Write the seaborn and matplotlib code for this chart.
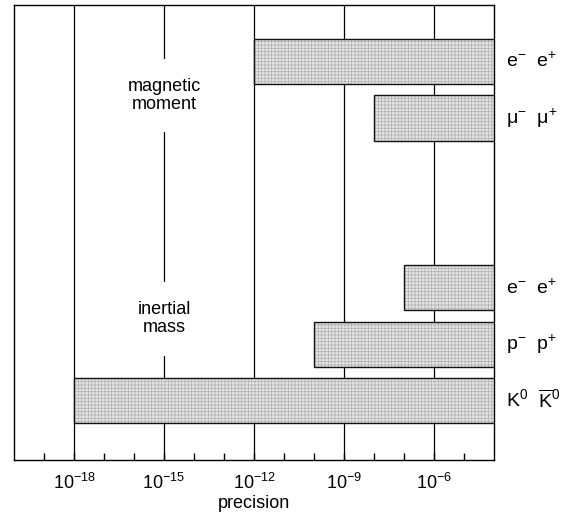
import matplotlib
matplotlib.use("Agg")
import matplotlib.pyplot as plt
import matplotlib.ticker as mticker
import seaborn as sns
import pandas as pd

# data
particles = [r"$\mathregular{e^{-}\ \ e^{+}}$",
             r"$\mathregular{\mu^{-}\ \ \mu^{+}}$",
             r"$\mathregular{e^{-}\ \ e^{+}}$",
             r"$\mathregular{p^{-}\ \ p^{+}}$",
             r"$\mathregular{K^{0}\ \ \overline{K}^{0}}$"]
positions = [0, 1, 4, 5, 6]
precision = [1e-12, 1e-8, 1e-7, 1e-10, 1e-18]
upper = 1e-4
groups = ["magnetic\nmoment", "inertial\nmass"]
group_y = [0.6, 4.55]
major_ticks = [1e-18, 1e-15, 1e-12, 1e-9, 1e-6]
major_labels = [r"$\mathregular{10^{-18}}$", r"$\mathregular{10^{-15}}$",
                r"$\mathregular{10^{-12}}$", r"$\mathregular{10^{-9}}$",
                r"$\mathregular{10^{-6}}$"]

df = pd.DataFrame({"pos": positions, "precision": precision, "label": particles})

sns.set_theme(style="white")
plt.rcParams["font.family"] = ["Liberation Sans", "DejaVu Sans"]
plt.rcParams["mathtext.fontset"] = "custom"
plt.rcParams["mathtext.rm"] = "Liberation Sans"
plt.rcParams["mathtext.it"] = "Liberation Sans:italic"
plt.rcParams["hatch.linewidth"] = 0.5
plt.rcParams["text.color"] = "black"

fig = plt.figure(figsize=(5.69, 5.16), dpi=100)
ax = fig.add_axes([14/569, 56/516, 480/569, 455/516])
ax.set_xscale("log")
ax.set_xlim(1e-20, 1e-4)
ax.set_ylim(7.05, -1.0)

for t in major_ticks:
    ax.axvline(t, color="black", lw=0.9, zorder=1)

bars = ax.barh(df["pos"], upper - df["precision"], left=df["precision"], height=0.8,
               facecolor="#e3e3e3", edgecolor="#111111", linewidth=1.0,
               hatch="+++++", zorder=3)
for b in bars:
    try:
        b.set_hatchcolor("#b0b0b0")
    except Exception:
        b._hatch_color = matplotlib.colors.to_rgba("#b0b0b0")

for g, y in zip(groups, group_y):
    ax.text(1e-15, y, g, ha="center", va="center", fontsize=13, zorder=4,
            linespacing=1.05, color="black",
            bbox=dict(facecolor="white", edgecolor="none", pad=14))

for lab, y in zip(particles, positions):
    ax.text(1.0 + 12/480, y, lab, transform=ax.get_yaxis_transform(),
            ha="left", va="center", fontsize=14, color="black")

ax.xaxis.set_major_locator(mticker.FixedLocator(major_ticks))
ax.xaxis.set_major_formatter(mticker.FixedFormatter(major_labels))
minors = [10.0**e for e in range(-19, -4) if e % 3 != 0]
ax.xaxis.set_minor_locator(mticker.FixedLocator(minors))
ax.xaxis.set_minor_formatter(mticker.NullFormatter())
ax.tick_params(axis="x", which="both", direction="in", length=5, width=1,
               bottom=True, top=False, labelsize=13, pad=9, colors="black")
ax.set_yticks([])
ax.set_xlabel("precision", fontsize=13, labelpad=2, color="black")
for s in ax.spines.values():
    s.set_visible(True)
    s.set_color("black")
    s.set_linewidth(1.0)

fig.savefig("out.png", dpi=100)
